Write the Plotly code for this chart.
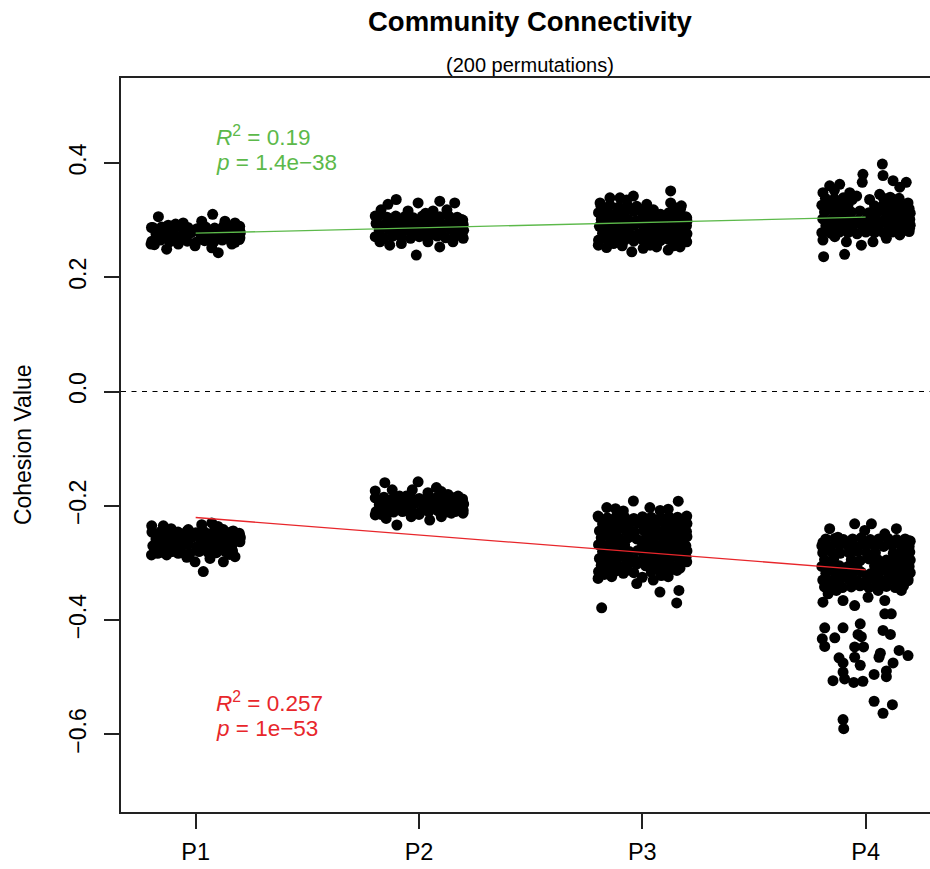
import plotly.graph_objects as go

# ---------------------------------------------------------------------------
# Data: cohesion values per period (positive and negative cohesion),
# each point given as (jitter offset from the category, cohesion value)
# ---------------------------------------------------------------------------
periods = ["P1", "P2", "P3", "P4"]

p1_pos_jit = [-0.167, -0.123, -0.056, 0.027, 0.076, 0.131, 0.176, -0.198, -0.2, -0.130,
              -0.078, -0.003, 0.101, 0.176, 0.198, -0.185, 0.072, 0.162, -0.09, 0.197,
              -0.196, -0.157, -0.117, -0.079, -0.038, 0.001, 0.04, 0.081, 0.119, 0.158, 0.195,
              -0.178, -0.138, -0.099, -0.058, -0.02, 0.021, 0.059, 0.1, 0.139, 0.177, 0.2,
              -0.192, -0.152, -0.114, -0.074, -0.035, 0.006, 0.044, 0.085, 0.124, 0.162, 0.196]
p1_pos_val = [0.306, 0.291, 0.295, 0.298, 0.310, 0.298, 0.295, 0.287, 0.258, 0.249,
              0.258, 0.255, 0.243, 0.261, 0.269, 0.257, 0.2515, 0.258, 0.293, 0.289,
              0.263, 0.265, 0.262, 0.266, 0.263, 0.261, 0.264, 0.262, 0.265, 0.263, 0.266,
              0.276, 0.274, 0.277, 0.275, 0.278, 0.276, 0.274, 0.277, 0.275, 0.276, 0.278,
              0.287, 0.288, 0.286, 0.289, 0.287, 0.285, 0.288, 0.286, 0.289, 0.287, 0.284]

p2_pos_jit = [-0.139, -0.102, -0.004, 0.093, 0.160, 0.063, -0.196, -0.049, 0.190, -0.175,
              -0.131, -0.079, -0.012, 0.040, 0.093, 0.152, 0.198, 0.125, -0.17, 0.03,
              -0.196, -0.157, -0.117, -0.079, -0.038, 0.001, 0.04, 0.081, 0.119, 0.158, 0.195,
              -0.178, -0.138, -0.099, -0.058, -0.02, 0.021, 0.059, 0.1, 0.139, 0.177, 0.2,
              -0.192, -0.152, -0.114, -0.074, -0.035, 0.006, 0.044, 0.085, 0.124, 0.162, 0.198,
              -0.184, -0.143, -0.104, -0.064, -0.025, 0.015, 0.054, 0.093, 0.133, 0.171, 0.196]
p2_pos_val = [0.3275, 0.336, 0.330, 0.333, 0.330, 0.316, 0.307, 0.316, 0.301, 0.262,
              0.256, 0.259, 0.2388, 0.262, 0.253, 0.262, 0.268, 0.318, 0.318, 0.312,
              0.271, 0.269, 0.272, 0.27, 0.268, 0.271, 0.27, 0.272, 0.269, 0.271, 0.27,
              0.282, 0.284, 0.281, 0.283, 0.282, 0.28, 0.283, 0.282, 0.284, 0.281, 0.282,
              0.294, 0.293, 0.295, 0.294, 0.296, 0.293, 0.294, 0.295, 0.293, 0.294, 0.292,
              0.306, 0.305, 0.307, 0.306, 0.304, 0.307, 0.305, 0.306, 0.307, 0.305, 0.300]

p3_pos_jit = [-0.189, -0.145, -0.100, -0.040, 0.020, 0.082, 0.127, 0.127, 0.171, 0.199,
              -0.07, 0.05, -0.197, -0.129, -0.047, 0.004, 0.064, 0.116, 0.169, 0.199,
              -0.16, -0.09, 0.035, 0.14,
              -0.196, -0.157, -0.117, -0.079, -0.038, 0.001, 0.04, 0.081, 0.119, 0.158, 0.195,
              -0.178, -0.138, -0.099, -0.058, -0.02, 0.021, 0.059, 0.1, 0.139, 0.177, 0.2,
              -0.192, -0.152, -0.114, -0.074, -0.035, 0.006, 0.044, 0.085, 0.124, 0.162, 0.198,
              -0.184, -0.143, -0.104, -0.064, -0.025, 0.015, 0.054, 0.093, 0.133, 0.171, 0.2,
              -0.196, -0.157, -0.117, -0.079, -0.038, 0.001, 0.04, 0.119, 0.158, 0.195,
              -0.185, -0.145, -0.105, -0.065, -0.025, 0.01, 0.14, 0.175]
p3_pos_val = [0.330, 0.339, 0.339, 0.342, 0.3275, 0.310, 0.351, 0.330, 0.319, 0.304,
              0.335, 0.318, 0.256, 0.259, 0.2445, 0.2505, 0.253, 0.2475, 0.253, 0.262,
              0.252, 0.255, 0.256, 0.255,
              0.265, 0.266, 0.264, 0.265, 0.263, 0.266, 0.265, 0.264, 0.266, 0.265, 0.264,
              0.277, 0.276, 0.278, 0.277, 0.275, 0.278, 0.277, 0.276, 0.278, 0.277, 0.276,
              0.289, 0.290, 0.288, 0.289, 0.291, 0.288, 0.289, 0.290, 0.288, 0.289, 0.290,
              0.301, 0.300, 0.302, 0.301, 0.299, 0.302, 0.300, 0.301, 0.302, 0.300, 0.298,
              0.313, 0.314, 0.312, 0.313, 0.315, 0.312, 0.311, 0.313, 0.314, 0.306,
              0.324, 0.326, 0.323, 0.325, 0.324, 0.320, 0.323, 0.325]

p4_pos_jit = [0.075, -0.012, -0.015, 0.078, 0.123, 0.182, 0.153, -0.161, -0.116, -0.071,
              -0.191, 0.018, 0.063, 0.19, -0.14, -0.04, 0.11, 0.15, -0.191, -0.138,
              -0.086, -0.019, 0.033, 0.093, 0.153, 0.197, -0.188, -0.094,
              -0.196, -0.157, -0.117, -0.079, -0.038, 0.001, 0.04, 0.081, 0.119, 0.158, 0.195,
              -0.178, -0.138, -0.099, -0.058, -0.02, 0.021, 0.059, 0.1, 0.139, 0.177, 0.2,
              -0.192, -0.152, -0.114, -0.074, -0.035, 0.006, 0.044, 0.085, 0.124, 0.162, 0.198,
              -0.184, -0.143, -0.104, -0.064, -0.025, 0.015, 0.054, 0.093, 0.133, 0.171, 0.2,
              -0.196, -0.157, -0.117, -0.079, 0.04, 0.081, 0.119, 0.158, 0.195,
              -0.18, -0.14, -0.1, -0.06, 0.08, 0.12]
p4_pos_val = [0.398, 0.380, 0.366, 0.378, 0.369, 0.366, 0.3575, 0.360, 0.3625, 0.348,
              0.348, 0.336, 0.345, 0.330, 0.352, 0.342, 0.34, 0.338, 0.265, 0.271,
              0.262, 0.256, 0.262, 0.268, 0.274, 0.2855, 0.236, 0.240,
              0.278, 0.277, 0.279, 0.278, 0.276, 0.279, 0.278, 0.277, 0.279, 0.278, 0.280,
              0.290, 0.291, 0.289, 0.290, 0.292, 0.289, 0.290, 0.291, 0.289, 0.290, 0.291,
              0.302, 0.301, 0.303, 0.302, 0.300, 0.303, 0.302, 0.301, 0.303, 0.302, 0.301,
              0.314, 0.315, 0.313, 0.314, 0.316, 0.313, 0.314, 0.315, 0.313, 0.314, 0.312,
              0.326, 0.325, 0.327, 0.326, 0.325, 0.327, 0.326, 0.325, 0.320,
              0.338, 0.337, 0.339, 0.336, 0.338, 0.337]

p1_neg_jit = [-0.197, -0.145, -0.078, -0.033, 0.027, 0.072, 0.124, 0.168, 0.198, -0.11,
              0.1, -0.198, -0.130, -0.078, -0.003, 0.034, 0.064, 0.124, 0.176, 0.198,
              -0.17, -0.04, 0.15,
              -0.196, -0.157, -0.117, -0.079, -0.038, 0.001, 0.04, 0.081, 0.119, 0.158, 0.195,
              -0.178, -0.138, -0.099, -0.058, -0.02, 0.021, 0.059, 0.1, 0.139, 0.177, 0.2,
              -0.192, -0.152, -0.114, -0.074, -0.035, 0.006, 0.044, 0.085, 0.124, 0.162,
              -0.184, -0.143, -0.104, -0.064, -0.025, 0.015, 0.054, 0.093, 0.133, 0.165]
p1_neg_val = [-0.235, -0.235, -0.250, -0.2415, -0.233, -0.230, -0.2415, -0.244, -0.253, -0.24,
              -0.236, -0.286, -0.286, -0.283, -0.298, -0.315, -0.292, -0.298, -0.289, -0.263,
              -0.283, -0.29, -0.285,
              -0.246, -0.245, -0.247, -0.246, -0.244, -0.247, -0.246, -0.245, -0.247, -0.246, -0.248,
              -0.258, -0.257, -0.259, -0.258, -0.256, -0.259, -0.258, -0.257, -0.259, -0.258, -0.256,
              -0.270, -0.269, -0.271, -0.270, -0.268, -0.271, -0.270, -0.269, -0.271, -0.270,
              -0.281, -0.282, -0.280, -0.281, -0.283, -0.280, -0.281, -0.282, -0.280, -0.279]

p2_neg_jit = [-0.153, -0.004, -0.196, -0.087, -0.057, 0.078, 0.040, 0.130, 0.175, 0.198,
              -0.12, -0.03, 0.1, -0.196, -0.147, -0.099, -0.035, 0.048, 0.100, 0.145,
              0.197, 0.0, -0.17,
              -0.196, -0.157, -0.117, -0.079, -0.038, 0.001, 0.04, 0.081, 0.119, 0.158, 0.195,
              -0.178, -0.138, -0.099, -0.058, -0.02, 0.021, 0.059, 0.1, 0.139, 0.177, 0.2,
              -0.192, -0.152, -0.114, -0.074, -0.035, 0.006, 0.044, 0.085, 0.124, 0.162, 0.198]
p2_neg_val = [-0.1595, -0.158, -0.174, -0.183, -0.183, -0.168, -0.177, -0.180, -0.183, -0.197,
              -0.172, -0.172, -0.175, -0.216, -0.222, -0.2336, -0.219, -0.225, -0.219, -0.213,
              -0.213, -0.215, -0.215,
              -0.186, -0.185, -0.187, -0.186, -0.184, -0.187, -0.186, -0.185, -0.187, -0.186, -0.188,
              -0.198, -0.197, -0.199, -0.198, -0.196, -0.199, -0.198, -0.197, -0.199, -0.198, -0.197,
              -0.210, -0.209, -0.211, -0.210, -0.208, -0.211, -0.210, -0.209, -0.211, -0.210, -0.208]

p3_neg_jit = [-0.040, 0.161, -0.159, -0.085, 0.034, 0.116, 0.199, -0.198, -0.12, 0.08,
              -0.198, -0.137, -0.085, -0.025, 0.049, 0.116, 0.169, 0.199, -0.17, 0.0,
              0.085, -0.182, 0.154, 0.164, 0.079,
              -0.196, -0.157, -0.117, -0.079, -0.038, 0.001, 0.04, 0.081, 0.119, 0.158, 0.195,
              -0.178, -0.138, -0.099, -0.058, -0.02, 0.021, 0.059, 0.1, 0.139, 0.177, 0.2,
              -0.192, -0.152, -0.114, -0.074, -0.035, 0.006, 0.044, 0.085, 0.124, 0.162, 0.198,
              -0.184, -0.143, -0.104, -0.064, -0.025, 0.015, 0.054, 0.093, 0.133, 0.171, 0.2,
              -0.196, -0.157, -0.117, -0.079, 0.001, 0.04, 0.081, 0.119, 0.158, 0.195,
              -0.178, -0.138, -0.099, -0.058, -0.02, 0.021, 0.059, 0.1, 0.139, 0.177, 0.2,
              -0.192, -0.152, -0.114, -0.074, -0.035, 0.006, 0.044, 0.085, 0.124, 0.162, 0.196,
              -0.184, -0.143, -0.104, -0.064, -0.025, 0.015, 0.054, 0.093, 0.133, 0.171,
              -0.196, -0.157, -0.117, -0.079, -0.038, 0.04, 0.081, 0.119, 0.155]
p3_neg_val = [-0.1916, -0.192, -0.203, -0.209, -0.203, -0.206, -0.218, -0.218, -0.205, -0.208,
              -0.327, -0.324, -0.318, -0.336, -0.330, -0.324, -0.309, -0.298, -0.32, -0.325,
              -0.322, -0.3785, -0.370, -0.348, -0.351,
              -0.220, -0.221, -0.219, -0.220, -0.222, -0.219, -0.220, -0.221, -0.219, -0.220, -0.222,
              -0.232, -0.231, -0.233, -0.232, -0.230, -0.233, -0.232, -0.231, -0.233, -0.232, -0.231,
              -0.244, -0.245, -0.243, -0.244, -0.246, -0.243, -0.244, -0.245, -0.243, -0.244, -0.245,
              -0.256, -0.255, -0.257, -0.256, -0.258, -0.257, -0.256, -0.255, -0.257, -0.256, -0.254,
              -0.268, -0.269, -0.267, -0.268, -0.267, -0.268, -0.269, -0.267, -0.268, -0.270,
              -0.280, -0.279, -0.281, -0.280, -0.278, -0.281, -0.280, -0.279, -0.281, -0.280, -0.279,
              -0.292, -0.293, -0.291, -0.292, -0.294, -0.291, -0.292, -0.293, -0.291, -0.292, -0.290,
              -0.304, -0.303, -0.305, -0.304, -0.302, -0.305, -0.304, -0.303, -0.305, -0.300,
              -0.315, -0.316, -0.314, -0.315, -0.317, -0.316, -0.314, -0.315, -0.313]

p4_neg_jit = [-0.049, 0.026, -0.161, -0.004, 0.086, 0.138, 0.197, -0.191, -0.124,
              -0.191, -0.101, -0.049, 0.011, 0.086, 0.160, 0.190, -0.168, -0.131, 0.056,
              -0.183, -0.101, -0.024, 0.086, 0.115, -0.194, -0.183, -0.138, -0.034, -0.019,
              0.078, 0.111, -0.049, -0.009, -0.119, -0.101, -0.049, -0.024, 0.066, 0.060,
              0.150, 0.190, 0.123, 0.093, -0.101, -0.094, -0.146, -0.053, -0.012, 0.038,
              0.093, 0.038, 0.120, 0.078, -0.101, -0.098,
              -0.178, -0.138, -0.099, -0.058, -0.02, 0.021, 0.059, 0.1, 0.139, 0.177, 0.2,
              -0.196, -0.157, -0.117, -0.079, -0.038, 0.001, 0.04, 0.081, 0.119, 0.158, 0.195,
              -0.192, -0.152, -0.114, -0.074, -0.035, 0.006, 0.044, 0.124, 0.162, 0.198,
              -0.184, -0.143, -0.064, -0.025, 0.015, 0.054, 0.093, 0.133, 0.171, 0.2,
              -0.196, -0.157, -0.117, -0.079, -0.038, 0.04, 0.081, 0.119, 0.158, 0.195,
              -0.178, -0.138, -0.099, -0.058, -0.02, 0.021, 0.059, 0.1, 0.139, 0.177, 0.2,
              -0.192, -0.152, -0.114, -0.074, -0.035, 0.006, 0.044, 0.085, 0.124, 0.162, 0.19,
              -0.184, -0.143, -0.104, -0.064, -0.025, 0.015, 0.054, 0.093, 0.133, 0.17]
p4_neg_val = [-0.2315, -0.2315, -0.240, -0.243, -0.249, -0.240, -0.261, -0.264, -0.255,
              -0.3686, -0.3657, -0.3745, -0.360, -0.3657, -0.348, -0.331, -0.354, -0.348, -0.348,
              -0.4135, -0.4135, -0.4065, -0.389, -0.389, -0.4327, -0.446, -0.431, -0.425, -0.429,
              -0.418, -0.425, -0.447, -0.447, -0.466, -0.475, -0.465, -0.479, -0.458, -0.465,
              -0.453, -0.462, -0.475, -0.489, -0.491, -0.503, -0.506, -0.509, -0.507, -0.495,
              -0.499, -0.542, -0.548, -0.563, -0.574, -0.590,
              -0.258, -0.257, -0.259, -0.258, -0.256, -0.259, -0.258, -0.257, -0.259, -0.258, -0.262,
              -0.270, -0.271, -0.269, -0.270, -0.272, -0.269, -0.270, -0.271, -0.269, -0.270, -0.271,
              -0.282, -0.281, -0.283, -0.282, -0.280, -0.283, -0.282, -0.283, -0.282, -0.281,
              -0.294, -0.293, -0.294, -0.296, -0.293, -0.294, -0.295, -0.293, -0.294, -0.295,
              -0.306, -0.307, -0.305, -0.306, -0.308, -0.305, -0.306, -0.307, -0.305, -0.306,
              -0.318, -0.317, -0.319, -0.318, -0.316, -0.319, -0.318, -0.317, -0.319, -0.318, -0.317,
              -0.330, -0.331, -0.329, -0.330, -0.332, -0.329, -0.330, -0.331, -0.329, -0.330, -0.328,
              -0.342, -0.341, -0.343, -0.342, -0.340, -0.343, -0.342, -0.341, -0.343, -0.340]

# Linear fits of cohesion against period index (intercept, slope) and their stats
pos_fit = (0.2677, 0.00933)
neg_fit = (-0.1900, -0.0305)
pos_r2, pos_p = "0.19", "1.4e\u221238"
neg_r2, neg_p = "0.257", "1e\u221253"

y_ticks = [-0.6, -0.4, -0.2, 0.0, 0.2, 0.4]
y_tick_text = ["\u22120.6", "\u22120.4", "\u22120.2", "0.0", "0.2", "0.4"]

GREEN = "#5CB94A"
RED = "#E8262B"
FONT = "Liberation Sans, Arial, Helvetica, sans-serif"

groups = [
    (1, p1_pos_jit, p1_pos_val), (2, p2_pos_jit, p2_pos_val),
    (3, p3_pos_jit, p3_pos_val), (4, p4_pos_jit, p4_pos_val),
    (1, p1_neg_jit, p1_neg_val), (2, p2_neg_jit, p2_neg_val),
    (3, p3_neg_jit, p3_neg_val), (4, p4_neg_jit, p4_neg_val),
]

xs, ys = [], []
for idx, jit, vals in groups:
    xs.extend(idx + d for d in jit)
    ys.extend(vals)

fig = go.Figure()
fig.add_trace(go.Scatter(
    x=xs, y=ys, mode="markers",
    marker=dict(size=11, color="black", line=dict(width=0)),
    hoverinfo="skip", showlegend=False,
))

# regression lines across the four periods
for (b0, b1), col in ((pos_fit, GREEN), (neg_fit, RED)):
    fig.add_trace(go.Scatter(
        x=[1, 4], y=[b0 + b1 * 1, b0 + b1 * 4], mode="lines",
        line=dict(color=col, width=1.3), hoverinfo="skip", showlegend=False,
    ))

# dashed reference line at zero
fig.add_shape(type="line", xref="paper", x0=0, x1=1, yref="y", y0=0, y1=0,
              line=dict(color="black", width=1.1, dash="5px,5.5px"))

annots = [
    dict(text="<b>Community Connectivity</b>", x=0.5056, y=1.0772, size=27.5),
    dict(text="(200 permutations)", x=0.5056, y=1.0174, size=20),
]
for a in annots:
    fig.add_annotation(text=a["text"], xref="paper", yref="paper", x=a["x"], y=a["y"],
                       xanchor="center", yanchor="middle", showarrow=False,
                       font=dict(family=FONT, size=a["size"], color="black"))

fig.add_annotation(text="Cohesion Value", xref="paper", yref="paper", x=-0.121, y=0.5,
                   textangle=-90, xanchor="center", yanchor="middle", showarrow=False,
                   font=dict(family=FONT, size=23, color="black"))

# fit statistics: first line sits on top of a boundary, second line hangs below it
stats = [
    (f"<i>R</i><sup>2</sup> = {pos_r2}", f"<i>p</i> = {pos_p}", 0.4231, GREEN),
    (f"<i>R</i><sup>2</sup> = {neg_r2}", f"<i>p</i> = {neg_p}", -0.5673, RED),
]
for line1, line2, yb, col in stats:
    for txt, anchor in ((line1, "bottom"), (line2, "top")):
        fig.add_annotation(text=txt, x=1.09, y=yb, xref="x", yref="y", xanchor="left",
                           yanchor=anchor, showarrow=False, borderpad=0, borderwidth=0,
                           font=dict(family=FONT, size=22.5, color=col))

fig.update_layout(
    width=930, height=869,
    margin=dict(l=121, r=0, t=78, b=57, pad=0),
    paper_bgcolor="white", plot_bgcolor="white",
    font=dict(family=FONT, color="black"),
    showlegend=False,
    xaxis=dict(
        range=[0.6655, 4.2884], tickvals=[1, 2, 3, 4], ticktext=periods,
        showgrid=False, zeroline=False, showline=True, mirror=True,
        linecolor="#222", linewidth=1.7, ticks="outside", ticklen=15, tickwidth=1.5,
        tickcolor="#222", tickfont=dict(family=FONT, size=23.5, color="black"),
        ticklabelstandoff=3,
    ),
    yaxis=dict(
        range=[-0.7358, 0.5486], tickvals=y_ticks, ticktext=y_tick_text,
        showgrid=False, zeroline=False, showline=True, mirror=False,
        linecolor="#222", linewidth=1.7, ticks="outside", ticklen=15, tickwidth=1.5,
        tickcolor="#222", tickangle=-90, tickfont=dict(family=FONT, size=23, color="black"),
        ticklabelstandoff=9,
    ),
)

fig.write_html("out.html", config={"displayModeBar": False})
